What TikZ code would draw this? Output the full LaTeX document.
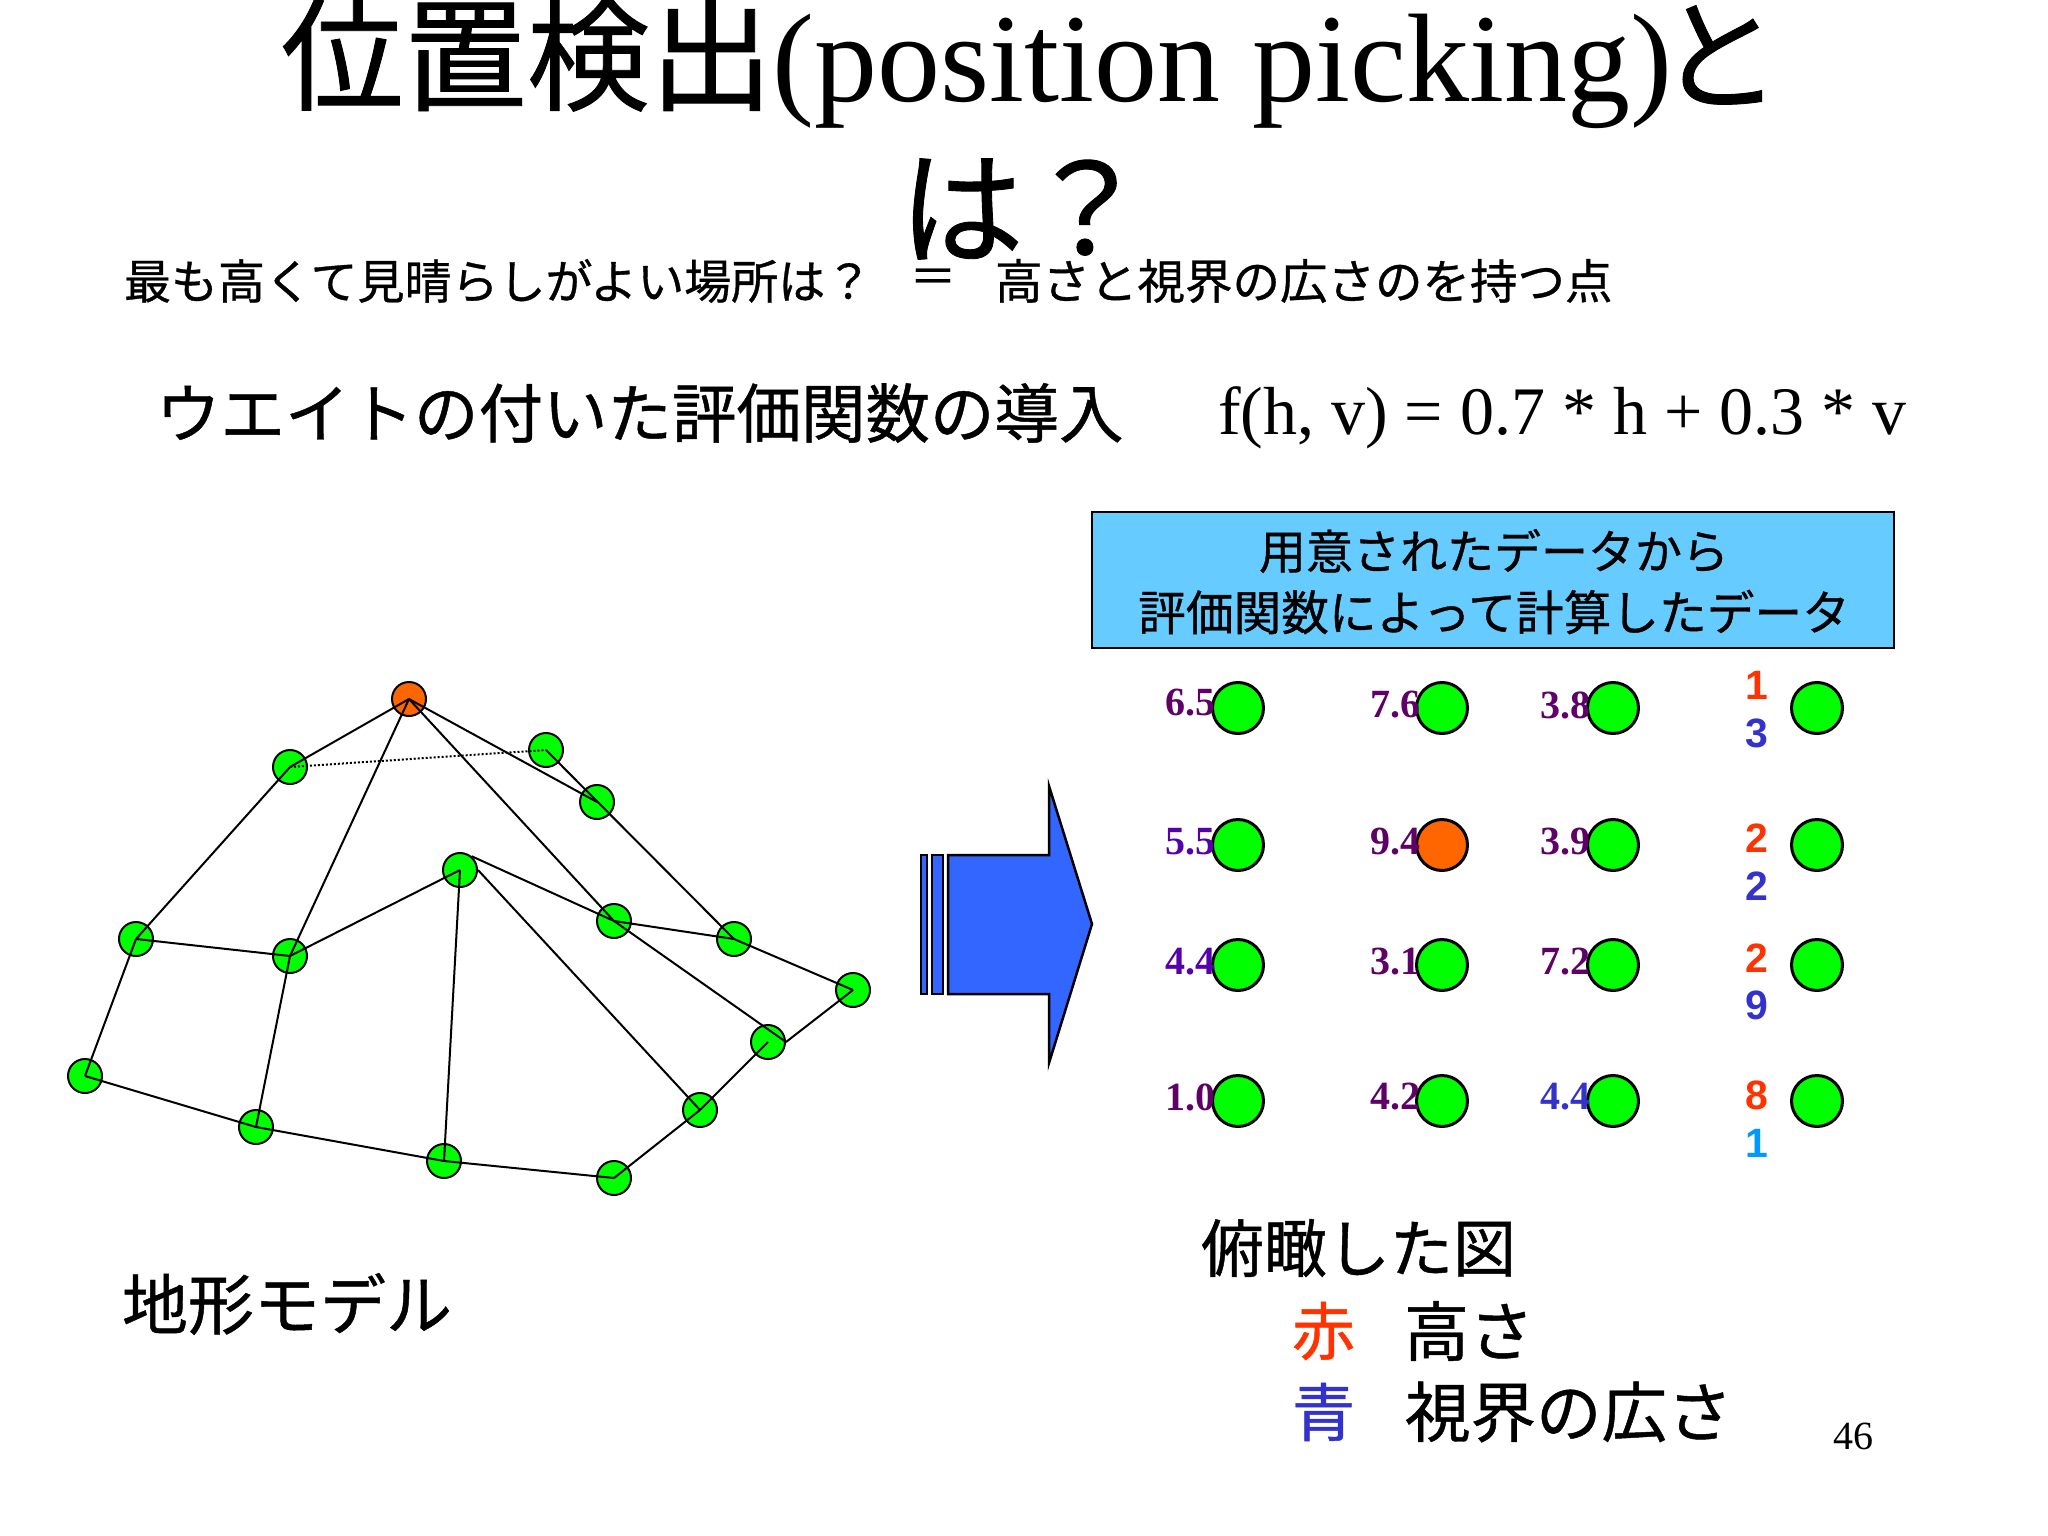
\documentclass[tikz,border=0pt]{standalone}
\usepackage{fontspec}
\setmainfont{Liberation Serif}
\newfontfamily\jp[FakeBold=0.7]{Noto Sans CJK JP}
\newfontfamily\dg{Liberation Sans}
\definecolor{nodegreen}{HTML}{00FF00}
\definecolor{nodeorange}{HTML}{FF6600}
\definecolor{boxblue}{HTML}{66CCFF}
\definecolor{arrowblue}{HTML}{3366FF}
\definecolor{vpurple}{HTML}{5F0066}
\definecolor{vviolet}{HTML}{5500AA}
\definecolor{vblue}{HTML}{3333CC}
\definecolor{hred}{HTML}{FF3300}
\definecolor{lblue}{HTML}{0099FF}
\newcommand{\fz}[1]{\fontsize{#1}{#1}\selectfont}
\tikzset{
  txt/.style={inner sep=0pt,outer sep=0pt,text=black},
  tnode/.style={circle,draw=black,line width=2pt,fill=nodegreen,inner sep=0pt,minimum size=34pt},
  gnode/.style={circle,draw=black,line width=3pt,fill=nodegreen,inner sep=0pt,minimum size=51pt},
  edge/.style={draw=black,line width=2pt},
  val/.style={txt,anchor=west,font=\fz{40}\bfseries},
  dig/.style={txt,font=\dg\fz{41}\bfseries},
  arrowpart/.style={draw=black,line width=2.5pt,fill=arrowblue,line join=miter},
}
\begin{document}
\begin{tikzpicture}[x=1pt,y=-1pt]
\useasboundingbox (0,0) rectangle (2048,1536);
\fill[white] (0,0) rectangle (2048,1536);
% title
\node[txt,anchor=center] (title1) at (1031,63) {\fz{123}{\jp 位置検出}\fz{126}(position picking)\hspace{-14pt}\fz{123}{\jp と}};
\node[txt,anchor=center] (title2) at (1024,209) {\fz{125}\jp は？};
% lines
\node[txt,anchor=west] (l1a) at (124,281) {\jp\fz{47}最も高くて見晴らしがよい場所は？};
\node[txt,anchor=center] (l1b) at (933,281) {\jp\fz{47}＝};
\node[txt,anchor=west] (l1c) at (995,281) {\jp\fz{47.5}高さと視界の広さのを持つ点};
\node[txt,anchor=west] (l2a) at (156,413) {\jp\fz{64.5}ウエイトの付いた評価関数の導入};
\node[txt,anchor=west] (l2b) at (1218,418) {\fz{68}f(h, v) = 0.7 * h + 0.3 * v};
% box
\node[draw=black,line width=2pt,fill=boxblue,minimum width=802pt,minimum height=136pt,inner sep=0pt,anchor=center,align=center] (box) at (1493,580) {};
\node[txt] (box1) at (1494,551) {\jp\fz{47}用意されたデータから};
\node[txt] (box2) at (1494,612) {\jp\fz{47.7}評価関数によって計算したデータ};
% terrain nodes
\node[tnode,fill=nodeorange] (top) at (409,699) {};
\node[tnode] (a) at (290,767) {};
\node[tnode] (b) at (546,750) {};
\node[tnode] (c) at (597,802) {};
\node[tnode] (d) at (460,870) {};
\node[tnode] (e) at (136,939) {};
\node[tnode] (f) at (290,956) {};
\node[tnode] (g) at (614,921) {};
\node[tnode] (h) at (734,939) {};
\node[tnode] (i) at (853,990) {};
\node[tnode] (j) at (768,1042) {};
\node[tnode] (k) at (85,1076) {};
\node[tnode] (l) at (256,1127) {};
\node[tnode] (m) at (444,1161) {};
\node[tnode] (n) at (614,1178) {};
\node[tnode] (o) at (700,1110) {};
% terrain edges
\draw[edge] (top.center) -- (a.center);
\draw[edge] (a.center) -- (e.center);
\draw[edge] (e.center) -- (f.center);
\draw[edge] (f.center) -- (d.center);
\draw[edge] (top.center) -- (f.center);
\draw[edge] (top.center) -- (g.center);
\draw[edge] (top.center) -- (c.center);
\draw[edge] (b.center) -- (h.center);
\draw[edge,dotted] (a.center) -- (b.center);
\draw[edge] (e.center) -- (k.center);
\draw[edge] (k.center) -- (l.center);
\draw[edge] (l.center) -- (m.center);
\draw[edge] (m.center) -- (n.center);
\draw[edge] (n.center) -- (o.center);
\draw[edge] (o.center) -- (j.center);
\draw[edge] (j.east) -- (i.center);
\draw[edge] (i.center) -- (h.center);
\draw[edge] (h.center) -- (g.center);
\draw[edge] (g.center) -- (d.50);
\draw[edge] (g.center) -- (j.east);
\draw[edge] (d.east) -- (o.center);
\draw[edge] (d.center) -- (m.center);
\draw[edge] (f.center) -- (l.center);
% arrow
\draw[arrowpart] (921,855) rectangle (927,994);
\draw[arrowpart] (932,855) rectangle (943,994);
\draw[arrowpart] (948,855) -- (1049,855) -- (1049,786) -- (1092,924) -- (1049,1063) -- (1049,994) -- (948,994) -- cycle;
% grid circles
\node[gnode] (g11) at (1238,708) {};
\node[gnode] (g12) at (1442,708) {};
\node[gnode] (g13) at (1613,708) {};
\node[gnode] (g14) at (1817,708) {};
\node[gnode] (g21) at (1238,845) {};
\node[gnode,fill=nodeorange] (g22) at (1442,845) {};
\node[gnode] (g23) at (1613,845) {};
\node[gnode] (g24) at (1817,845) {};
\node[gnode] (g31) at (1238,965) {};
\node[gnode] (g32) at (1442,965) {};
\node[gnode] (g33) at (1613,965) {};
\node[gnode] (g34) at (1817,965) {};
\node[gnode] (g41) at (1238,1101) {};
\node[gnode] (g42) at (1442,1101) {};
\node[gnode] (g43) at (1613,1101) {};
\node[gnode] (g44) at (1817,1101) {};
% values
\node[val,text=vpurple] (v11) at (1165,703) {6.5};
\node[val,text=vpurple] (v12) at (1370,705) {7.6};
\node[val,text=vpurple] (v13) at (1540,705) {3.8};
\node[val,text=vviolet] (v21) at (1165,842) {5.5};
\node[val,text=vpurple] (v22) at (1370,842) {9.4};
\node[val,text=vpurple] (v23) at (1540,842) {3.9};
\node[val,text=vviolet] (v31) at (1165,962) {4.4};
\node[val,text=vpurple] (v32) at (1370,962) {3.1};
\node[val,text=vpurple] (v33) at (1540,962) {7.2};
\node[val,text=vpurple] (v41) at (1165,1097) {1.0};
\node[val,text=vpurple] (v42) at (1370,1097) {4.2};
\node[val,text=vblue] (v43) at (1540,1097) {4.4};
% digits
\node[dig,text=hred] (d1a) at (1757,685) {1};
\node[dig,text=vblue] (d1b) at (1757,733) {3};
\node[dig,text=hred] (d2a) at (1757,838) {2};
\node[dig,text=vblue] (d2b) at (1757,886) {2};
\node[dig,text=hred] (d3a) at (1757,958) {2};
\node[dig,text=vblue] (d3b) at (1757,1005) {9};
\node[dig,text=hred] (d4a) at (1757,1095) {8};
\node[dig,text=lblue] (d4b) at (1757,1143) {1};
% captions
\node[txt,anchor=west] (cap1) at (122,1304) {\jp\fz{66}地形モデル};
\node[txt,anchor=west] (cap2) at (1201,1248) {\jp\fz{63}俯瞰した図};
\node[txt,anchor=west,text=hred] (cap3a) at (1292,1331) {\jp\fz{63}赤};
\node[txt,anchor=west] (cap3b) at (1404,1331) {\jp\fz{65}高さ};
\node[txt,anchor=west,text=vblue] (cap4a) at (1292,1412) {\jp\fz{63}青};
\node[txt,anchor=west] (cap4b) at (1405,1412) {\jp\fz{65.5}視界の広さ};
\node[txt] (pageno) at (1853,1436) {\fz{40}46};
\end{tikzpicture}
\end{document}
